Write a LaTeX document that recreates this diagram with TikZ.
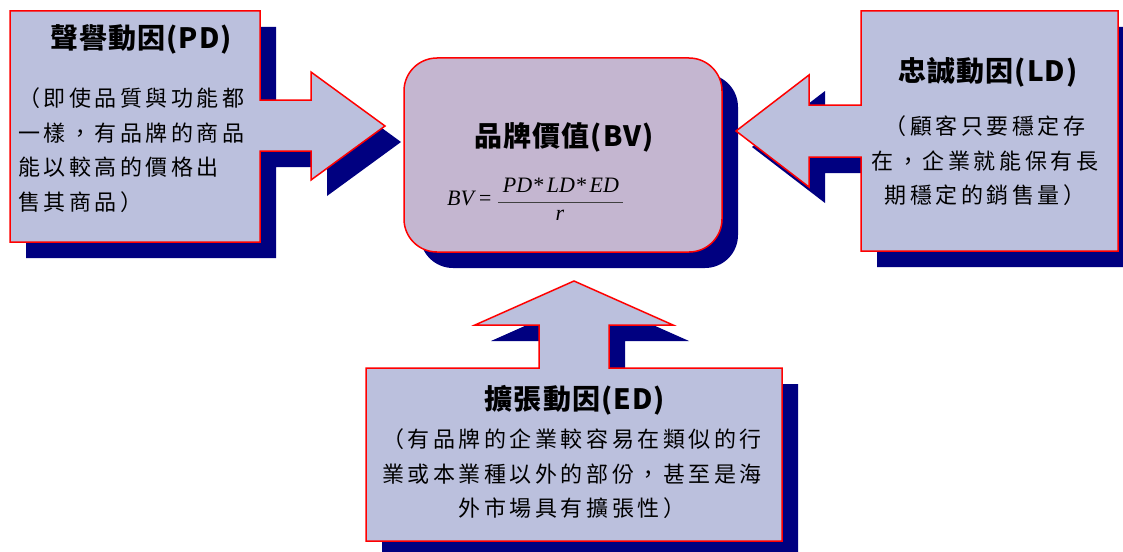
\documentclass[tikz,border=0pt]{standalone}
\usepackage{fontspec}
\setmainfont{Noto Sans CJK TC}
\newfontfamily\cjkbody[LetterSpace=16]{Noto Sans CJK TC}
\newfontfamily\cjktitle[LetterSpace=4]{Noto Sans CJK TC}
\newfontfamily\serifit{Liberation Serif}
\definecolor{calloutfill}{HTML}{BBC0DD}
\definecolor{centerfill}{HTML}{C4B6D0}
\definecolor{shadowblue}{HTML}{000080}
\definecolor{edgered}{HTML}{FF0000}
\newcommand\pdshape{(10,11) -- (260,11) -- (260,100) -- (311,100) -- (311,72) -- (385,126) -- (311,180) -- (311,151) -- (260,151) -- (260,242) -- (10,242) -- cycle}
\newcommand\ldshape{(861,11) -- (1118,11) -- (1118,251) -- (861,251) -- (861,157) -- (809,157) -- (809,187) -- (736,131) -- (809,75) -- (809,105) -- (861,105) -- cycle}
\newcommand\edshape{(366,368) -- (539,368) -- (539,325) -- (475,325) -- (574,281) -- (673,325) -- (609,325) -- (609,368) -- (782,368) -- (782,541) -- (366,541) -- cycle}
\begin{document}
\begin{tikzpicture}[x=1pt,y=-1pt,
  shadowshape/.style={fill=shadowblue,draw=none},
  callout/.style={fill=calloutfill,draw=edgered,line width=1.5pt,line join=miter},
  centerbox/.style={fill=centerfill,draw=edgered,line width=1.5pt,rounded corners=33pt},
  titletext/.style={font=\cjktitle\bfseries\fontsize{28}{32}\selectfont,inner sep=0pt},
  bodytext/.style={font=\cjkbody\fontsize{22}{34.5}\selectfont,inner sep=0pt},
  formulatext/.style={font=\serifit\itshape\fontsize{22}{26}\selectfont,inner sep=0pt}]
\useasboundingbox (0,0) rectangle (1123,551);
% shadows
\fill[shadowshape,shift={(16,16)}] \pdshape;
\fill[shadowshape,shift={(16,16)}] \ldshape;
\fill[shadowshape,shift={(16,16)}] \edshape;
\fill[shadowshape,rounded corners=33pt] (420,74) rectangle (738,268);
% shapes
\draw[centerbox] (404,58) rectangle (722,252);
\draw[callout] \pdshape;
\draw[callout] \ldshape;
\draw[callout] \edshape;
% texts
\node[titletext] (pdtitle) at (141,39) {聲譽動因(PD)};
\node[bodytext,anchor=west,align=left] (pdbody) at (18,150) {（即使品質與功能都\\一樣，有品牌的商品\\能以較高的價格出\\售其商品）};
\node[titletext] (ldtitle) at (988,72) {忠誠動因(LD)};
\node[bodytext,align=center] (ldbody) at (985,161) {（顧客只要穩定存\\在，企業就能保有長\\期穩定的銷售量）};
\node[titletext] (bvtitle) at (564,137) {品牌價值(BV)};
\node[formulatext,anchor=base west] (bvlhs) at (447,205) {BV\,=};
\node[formulatext,anchor=base] (bvnum) at (561,192) {PD*\,LD*\,ED};
\node[formulatext,anchor=base] (bvden) at (560,220) {r};
\coordinate (barl) at (498,202);
\coordinate (barr) at (623,202);
\draw[line width=0.9pt,black!75] (barl) -- (barr);
\node[titletext] (edtitle) at (575,400) {擴張動因(ED)};
\node[bodytext,align=center] (edbody) at (572,474) {（有品牌的企業較容易在類似的行\\業或本業種以外的部份，甚至是海\\外市場具有擴張性）};
\end{tikzpicture}
\end{document}
